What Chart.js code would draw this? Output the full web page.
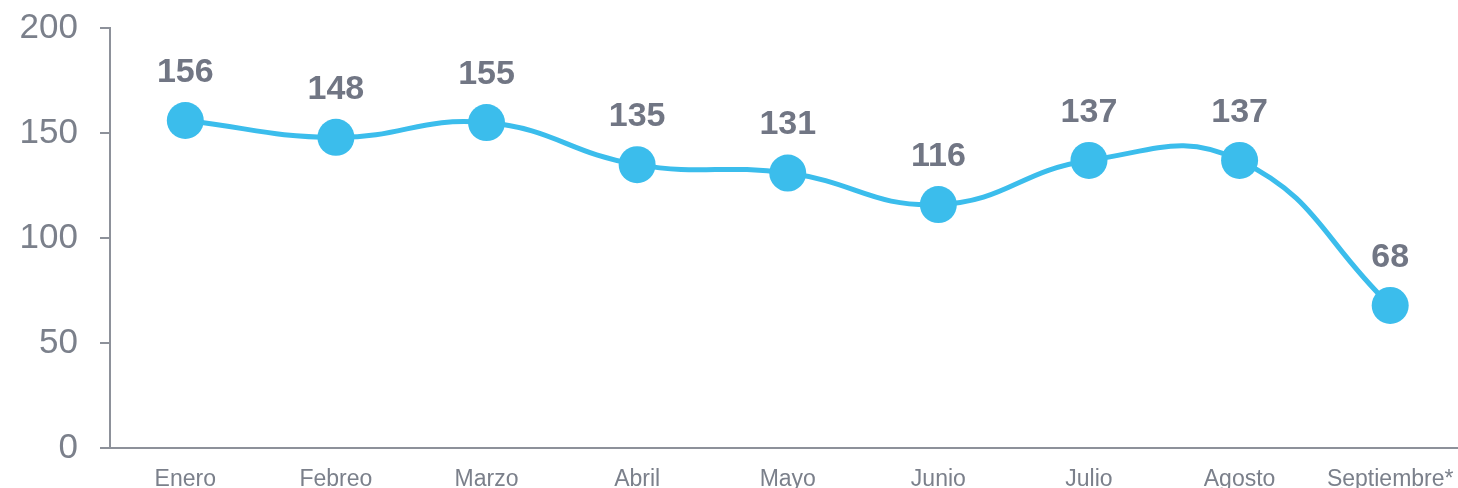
<!DOCTYPE html>
<html>
<head>
<meta charset="utf-8">
<script src="https://cdn.jsdelivr.net/npm/chart.js@4/dist/chart.umd.min.js"></script>
<style>
  html, body { margin: 0; padding: 0; background: #fff; overflow: hidden; }
  #wrap { width: 1484px; height: 525px; margin-top: -15px; }
</style>
</head>
<body>
<div id="wrap"><canvas id="lineChart"></canvas></div>
<script>
const months = ['Enero', 'Febreo', 'Marzo', 'Abril', 'Mayo', 'Junio', 'Julio', 'Agosto', 'Septiembre*'];
const values = [156, 148, 155, 135, 131, 116, 137, 137, 68];
const yTicks = [0, 50, 100, 150, 200];

const blue = '#3bbdec';
const grey = '#7b808b';

// draws the bold numbers above each point
const valueLabels = {
  id: 'valueLabels',
  afterDatasetsDraw(chart) {
    const ctx = chart.ctx;
    const meta = chart.getDatasetMeta(0);
    ctx.save();
    ctx.font = 'bold 34px "Liberation Sans", Arial, sans-serif';
    ctx.fillStyle = '#717684';
    ctx.textAlign = 'center';
    ctx.textBaseline = 'middle';
    meta.data.forEach(function(pt, i) {
      ctx.fillText(values[i], pt.x, pt.y - 48);
    });
    ctx.restore();
  }
};

const lineCanvas = document.querySelector('#lineChart');

const lineChart = new Chart(lineCanvas, {
  type: 'line',
  data: {
    labels: months,
    datasets: [{
      data: values,
      borderColor: blue,
      backgroundColor: blue,
      borderWidth: 5,
      tension: 0.45,
      pointRadius: 18.5,
      pointBorderWidth: 0,
      pointBackgroundColor: blue,
      clip: false
    }]
  },
  options: {
    responsive: true,
    maintainAspectRatio: false,
    animation: false,
    layout: { padding: { top: 13, left: 0, right: 0, bottom: 0 } },
    scales: {
      x: {
        offset: true,
        grid: { display: false, drawTicks: false },
        border: { display: true, color: '#8d919a', width: 2 },
        ticks: {
          color: grey,
          padding: 17,
          maxRotation: 0,
          autoSkip: false,
          font: { family: '"Liberation Sans", Arial, sans-serif', size: 23 }
        }
      },
      y: {
        min: 0,
        max: 200,
        afterBuildTicks(scale) {
          scale.ticks = yTicks.map(function(v) { return { value: v }; });
        },
        afterFit(scale) { scale.width = 110; },
        grid: { drawOnChartArea: false, drawTicks: true, tickLength: 10, color: '#8d919a', lineWidth: 2 },
        border: { display: true, color: '#8d919a', width: 2 },
        ticks: {
          color: grey,
          padding: 22,
          font: { family: '"Liberation Sans", Arial, sans-serif', size: 35 }
        }
      }
    },
    plugins: {
      legend: { display: false },
      tooltip: { enabled: false }
    }
  },
  plugins: [valueLabels]
});
</script>
</body>
</html>
